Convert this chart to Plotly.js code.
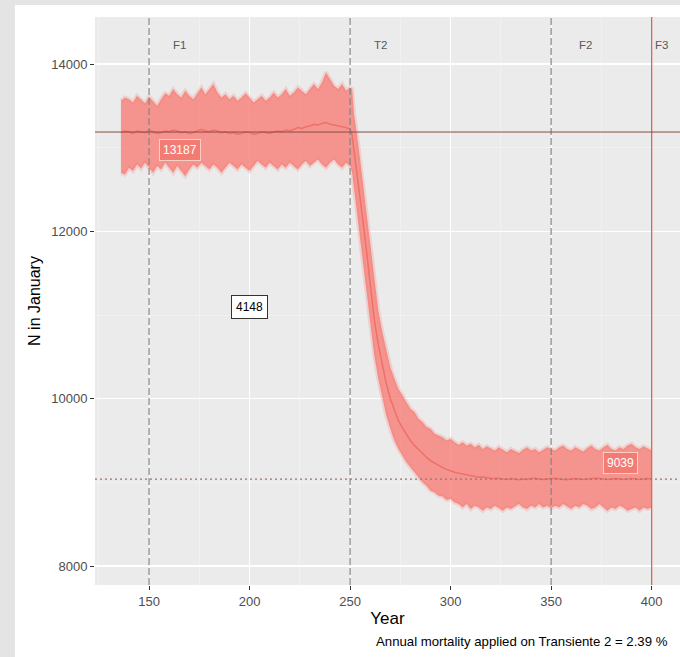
<!DOCTYPE html>
<html>
<head>
<meta charset="utf-8">
<script src="https://cdn.plot.ly/plotly-3.0.1.min.js"></script>
<style>
  html, body { margin:0; padding:0; background:#e4e4e4; width:680px; height:657px; overflow:hidden; }
  #plot { position:absolute; left:15px; top:5px; width:665px; height:652px; background:#fff; }
</style>
</head>
<body>
<div id="plot"></div>
<script>
// ---- data ----
const years = [
  136,138,140,142,144,146,148,150,152,154,
  156,158,160,162,164,166,168,170,172,174,
  176,178,180,182,184,186,188,190,192,194,
  196,198,200,202,204,206,208,210,212,214,
  216,218,220,222,224,226,228,230,232,234,
  236,238,240,242,244,246,248,250,251,252,
  254,256,258,260,262,264,266,268,270,272,
  274,276,278,280,282,284,286,288,290,292,
  294,296,298,300,302,304,306,308,310,312,
  314,316,318,320,322,324,326,328,330,332,
  334,336,338,340,342,344,346,348,350,352,
  354,356,358,360,362,364,366,368,370,372,
  374,376,378,380,382,384,386,388,390,392,
  394,396,398,400
];
const upperN = [
  13560,13600,13580,13540,13620,13570,13530,13610,13560,13500,
  13580,13650,13620,13700,13640,13600,13680,13620,13580,13660,
  13720,13640,13700,13760,13660,13600,13640,13580,13620,13560,
  13600,13650,13600,13540,13580,13620,13560,13600,13660,13600,
  13640,13700,13620,13660,13720,13680,13640,13700,13760,13700,
  13780,13900,13820,13740,13700,13760,13680,13720,13700,13400,
  13050,12650,12230,11780,11380,11060,10800,10560,10380,10240,
  10120,10040,9960,9880,9840,9760,9720,9660,9640,9580,
  9560,9540,9500,9520,9480,9450,9480,9440,9460,9420,
  9450,9400,9430,9410,9380,9420,9390,9360,9400,9380,
  9350,9390,9420,9380,9400,9360,9390,9420,9400,9380,
  9420,9440,9400,9380,9420,9400,9370,9410,9440,9400,
  9380,9420,9450,9400,9380,9420,9400,9440,9460,9420,
  9400,9430,9410,9380
];
const lowerN = [
  12700,12680,12760,12720,12800,12750,12820,12760,12700,12780,
  12740,12820,12760,12700,12780,12720,12660,12740,12800,12760,
  12820,12780,12740,12800,12760,12700,12760,12820,12780,12740,
  12800,12760,12720,12780,12840,12800,12760,12820,12780,12740,
  12800,12760,12820,12780,12740,12800,12840,12780,12820,12860,
  12800,12760,12820,12860,12800,12760,12820,12780,12700,12500,
  12150,11750,11350,10900,10520,10240,10000,9800,9640,9500,
  9400,9310,9240,9180,9120,9060,9000,8960,8900,8880,
  8840,8830,8790,8800,8760,8740,8700,8740,8680,8720,
  8700,8660,8700,8680,8720,8690,8660,8700,8680,8710,
  8740,8700,8680,8720,8700,8740,8700,8720,8690,8720,
  8700,8740,8710,8680,8720,8700,8740,8720,8680,8700,
  8740,8700,8660,8700,8680,8720,8700,8660,8680,8700,
  8660,8700,8680,8700
];
const meanN = [
  13180,13200,13190,13170,13200,13190,13180,13210,13190,13170,
  13180,13200,13190,13210,13200,13180,13190,13170,13180,13200,
  13220,13200,13190,13210,13200,13180,13190,13170,13180,13160,
  13170,13190,13180,13160,13170,13190,13180,13170,13190,13200,
  13190,13210,13200,13220,13240,13230,13250,13260,13280,13270,
  13290,13300,13280,13270,13260,13250,13240,13220,13150,12950,
  12600,12200,11800,11350,10950,10650,10400,10180,10000,9860,
  9740,9650,9570,9500,9440,9390,9340,9300,9260,9230,
  9200,9175,9155,9135,9120,9110,9100,9090,9080,9070,
  9060,9065,9055,9050,9045,9050,9040,9035,9045,9040,
  9030,9040,9035,9045,9050,9040,9035,9040,9045,9050,
  9040,9035,9030,9040,9045,9040,9035,9040,9045,9050,
  9045,9040,9035,9040,9045,9040,9035,9040,9045,9040,
  9035,9040,9045,9039
];
const phaseYears  = [150, 250, 350];      // dashed phase boundaries
const endYear     = 400;                  // solid boundary (F3)
const phaseNames  = ['F1', 'T2', 'F2', 'F3'];
const phaseLabelX = [165, 265, 367, 405];
const phaseLabelY = 14230;
const eqBefore = 13187;
const eqAfter  = 9039;
const lossLabel = '4148';
const lossLabelPos = [200, 11100];
const eqBeforeLabelPos = [165.5, 12970];
const eqAfterLabelPos  = [384.5, 9232];
const xTicks = [150, 200, 250, 300, 350, 400];
const yTicks = [8000, 10000, 12000, 14000];
const caption = 'Annual mortality applied on Transiente 2 = 2.39 %';

// ---- traces ----
const FONT = 'Liberation Sans, Arial, sans-serif';
const traces = [
  { x: years, y: lowerN, type: 'scatter', mode: 'lines',
    line: { color: 'rgba(248,118,109,0.22)', width: 4 }, hoverinfo: 'skip', showlegend: false },
  { x: years, y: upperN, type: 'scatter', mode: 'lines', fill: 'tonexty',
    fillcolor: 'rgba(248,118,109,0.74)',
    line: { color: 'rgba(248,118,109,0.22)', width: 4 }, hoverinfo: 'skip', showlegend: false },
  { x: years, y: meanN, type: 'scatter', mode: 'lines',
    line: { color: 'rgba(232,88,80,0.6)', width: 1.5 }, hoverinfo: 'skip', showlegend: false }
];

const shapes = [];
phaseYears.forEach(v => shapes.push({
  type: 'line', xref: 'x', yref: 'paper', x0: v, x1: v, y0: 0, y1: 1, layer: 'above',
  line: { color: '#7d7d7d', width: 1.1, dash: '7px,3px' }
}));
shapes.push({ type: 'line', xref: 'x', yref: 'paper', x0: endYear, x1: endYear, y0: 0, y1: 1, layer: 'above',
  line: { color: '#e0674f', width: 1.3 } });
shapes.push({ type: 'line', xref: 'paper', yref: 'y', x0: 0, x1: 1, y0: eqBefore, y1: eqBefore, layer: 'above',
  line: { color: '#8a4a42', width: 1 } });
shapes.push({ type: 'line', xref: 'paper', yref: 'y', x0: 0, x1: 1, y0: eqAfter, y1: eqAfter, layer: 'above',
  line: { color: '#9a7468', width: 1.1, dash: '2px,3px' } });

const annotations = [];
phaseNames.forEach((n, i) => annotations.push({
  x: phaseLabelX[i], y: phaseLabelY, xref: 'x', yref: 'y', text: n, showarrow: false,
  font: { family: FONT, size: 11.5, color: '#595959' }
}));
annotations.push({
  x: eqBeforeLabelPos[0], y: eqBeforeLabelPos[1], xref: 'x', yref: 'y', text: String(eqBefore),
  showarrow: false, font: { family: FONT, size: 12, color: '#ffffff' },
  bgcolor: '#f27c73', bordercolor: '#fbcfc6', borderwidth: 1, borderpad: 3
});
annotations.push({
  x: eqAfterLabelPos[0], y: eqAfterLabelPos[1], xref: 'x', yref: 'y', text: String(eqAfter),
  showarrow: false, font: { family: FONT, size: 12, color: '#ffffff' },
  bgcolor: '#f27c73', bordercolor: '#fbcfc6', borderwidth: 1, borderpad: 3
});
annotations.push({
  x: lossLabelPos[0], y: lossLabelPos[1], xref: 'x', yref: 'y', text: lossLabel,
  showarrow: false, font: { family: FONT, size: 12, color: '#000000' },
  bgcolor: '#ffffff', bordercolor: '#333333', borderwidth: 1, borderpad: 4
});
annotations.push({
  x: 0.477, y: -0.099, xref: 'paper', yref: 'paper', xanchor: 'left', yanchor: 'middle',
  text: caption, showarrow: false, font: { family: FONT, size: 13.2, color: '#000000' }
});

const layout = {
  width: 665, height: 652,
  margin: { l: 80, r: 0, t: 12, b: 72 },
  paper_bgcolor: '#ffffff', plot_bgcolor: '#ebebeb',
  font: { family: FONT },
  showlegend: false,
  xaxis: {
    range: [123.1, 414.1], tickvals: xTicks, ticktext: xTicks.map(String),
    ticks: 'outside', ticklen: 4, tickcolor: '#333333', tickwidth: 1,
    tickfont: { family: FONT, size: 13, color: '#4d4d4d' },
    showgrid: true, gridcolor: '#ffffff', gridwidth: 1.1,
    minor: { dtick: 25, tick0: 0, showgrid: true, gridcolor: '#f5f5f5', gridwidth: 0.6, ticks: '' },
    zeroline: false, showline: false,
    title: { text: 'Year', font: { family: FONT, size: 17, color: '#000000' }, standoff: 4 }
  },
  yaxis: {
    range: [7773, 14562], tickvals: yTicks, ticktext: yTicks.map(String),
    ticks: 'outside', ticklen: 4, tickcolor: '#333333', tickwidth: 1,
    tickfont: { family: FONT, size: 13, color: '#4d4d4d' },
    showgrid: true, gridcolor: '#ffffff', gridwidth: 1.1,
    minor: { dtick: 1000, tick0: 0, showgrid: true, gridcolor: '#f5f5f5', gridwidth: 0.6, ticks: '' },
    zeroline: false, showline: false,
    title: { text: 'N in January', font: { family: FONT, size: 16, color: '#000000' }, standoff: 6 }
  },
  shapes: shapes,
  annotations: annotations
};

Plotly.newPlot('plot', traces, layout, { displayModeBar: false, staticPlot: true });
</script>
</body>
</html>
